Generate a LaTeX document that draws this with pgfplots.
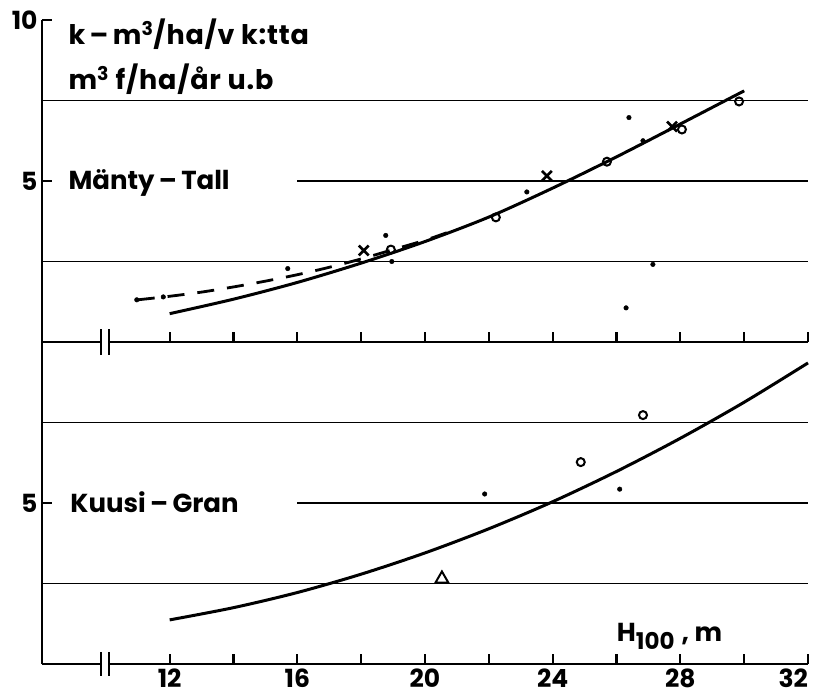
\documentclass[border=0pt]{standalone}
\usepackage{fontspec}
\setmainfont{Poppins}
\usepackage{pgfplots}
\pgfplotsset{compat=1.18}
\begin{document}
\begin{tikzpicture}
\useasboundingbox (-42pt,-33pt) rectangle (771pt,664pt);
\tikzset{
 axln/.style={line width=2.6pt},
 brk/.style={line width=2.2pt},
 grd/.style={line width=1.8pt},
 lbl/.style={anchor=base west, font=\fontsize{26}{26}\selectfont\bfseries},
 ylbl/.style={anchor=base west, font=\fontsize{27}{27}\selectfont\bfseries\addfontfeature{LetterSpace=3}},
}
\pgfplotsset{
 panel/.style={
  width=766pt, height=322pt, scale only axis,
  xmin=8, xmax=32, ymin=0, ymax=10,
  axis x line*=bottom, axis y line*=left,
  x axis line style={draw=none},
  y axis line style={line width=2.6pt, -},
  xtick={12,16,...,32}, minor xtick={14,18,...,30},
  tick align=inside,
  major tick length=10pt, minor tick length=10pt,
  tick style={black, line width=2.2pt},
  clip=false,
  xticklabel style={font=\fontsize{25}{25}\selectfont\bfseries, yshift=-1pt},
  yticklabel style={font=\fontsize{25}{25}\selectfont\bfseries, xshift=-1pt},
  /pgf/number format/assume math mode=true,
 },
 dots/.style={only marks, mark=*, mark size=2.3pt, black},
 circ/.style={only marks, mark=o, mark size=4pt, black, line width=2pt},
 crs/.style={only marks, mark=x, mark size=7pt, black, line width=2.6pt},
 tri/.style={only marks, mark=triangle, mark size=7.5pt, black, line width=2pt},
 curve/.style={black, line width=3pt, smooth, no marks},
}
% ---------------- bottom panel: Kuusi - Gran
\begin{axis}[panel, at={(0,0)}, anchor=south west, ytick={5},
  xticklabels={12,16,20,24,28,\makebox[0pt][r]{32}}]
 \draw[axln] (axis cs:8,0) -- (axis cs:9.85,0);
 \draw[axln] (axis cs:10.1,0) -- (axis cs:32,0);
 \draw[brk] (axis cs:9.85,-0.37) -- (axis cs:9.85,0.37);
 \draw[brk] (axis cs:10.1,-0.37) -- (axis cs:10.1,0.37);
 \draw[grd] (axis cs:8,2.5) -- (axis cs:32,2.5);
 \draw[grd] (axis cs:16,5) -- (axis cs:32,5);
 \draw[grd] (axis cs:8,7.5) -- (axis cs:32,7.5);
 \addplot[curve] coordinates {(12,1.37) (14,1.75) (16,2.22) (18,2.79) (20,3.45) (22,4.20) (24,5.04) (26,5.98) (28,7.01) (30,8.13) (32,9.35)};
 \addplot[dots] coordinates {(21.87,5.28) (26.1,5.43)};
 \addplot[circ] coordinates {(24.88,6.27) (26.83,7.73)};
 \addplot[tri] coordinates {(20.53,2.64)};
 \node[lbl] at (axis cs:8.78,4.72) {Kuusi\,–\,Gran};
 \node[lbl] at (axis cs:25.9,0.71) {H\raisebox{-8pt}{\fontsize{23}{23}\selectfont 100}\;, m};
\end{axis}
% ---------------- top panel: Mänty - Tall
\begin{axis}[panel, at={(0,322pt)}, anchor=south west, ytick={5,10}, xticklabels={}]
 \draw[axln] (axis cs:8,0) -- (axis cs:9.85,0);
 \draw[axln] (axis cs:10.1,0) -- (axis cs:32,0);
 \draw[brk] (axis cs:9.85,-0.4) -- (axis cs:9.85,0.4);
 \draw[brk] (axis cs:10.1,-0.4) -- (axis cs:10.1,0.4);
 \draw[grd] (axis cs:8,2.5) -- (axis cs:32,2.5);
 \draw[grd] (axis cs:16,5) -- (axis cs:32,5);
 \draw[grd] (axis cs:8,7.5) -- (axis cs:32,7.5);
 \addplot[curve] coordinates {(12,0.88) (14,1.33) (16,1.85) (18,2.45) (20,3.12) (22,3.88) (24,4.78) (26,5.75) (28,6.77) (30,7.8)};
 \addplot[black, line width=2.8pt, smooth, no marks, dash pattern=on 17pt off 13pt] coordinates {(11.0,1.31) (12,1.42) (13,1.55) (14,1.71) (15,1.89) (16,2.09) (17,2.32) (18,2.58) (19,2.87) (20,3.16) (20.7,3.40)};
 \addplot[dots] coordinates {(10.97,1.31) (11.8,1.40) (15.7,2.28) (18.77,3.31) (18.96,2.5) (23.19,4.66) (26.39,6.97) (26.83,6.25) (27.14,2.41) (26.3,1.06)};
 \addplot[circ] coordinates {(18.93,2.87) (22.22,3.87) (25.7,5.6) (28.05,6.6) (29.84,7.47)};
 \addplot[crs] coordinates {(18.08,2.84) (23.82,5.16) (27.74,6.69)};
 \node[lbl] at (axis cs:8.72,4.75) {Mänty\,–\,Tall};
 \node[ylbl] at (axis cs:8.72,9.25) {k\,–\,m\textsuperscript{3}/ha/v k:tta};
 \node[ylbl] at (axis cs:8.72,7.84) {m\textsuperscript{3} f/ha/år u.b};
\end{axis}
\end{tikzpicture}
\end{document}
